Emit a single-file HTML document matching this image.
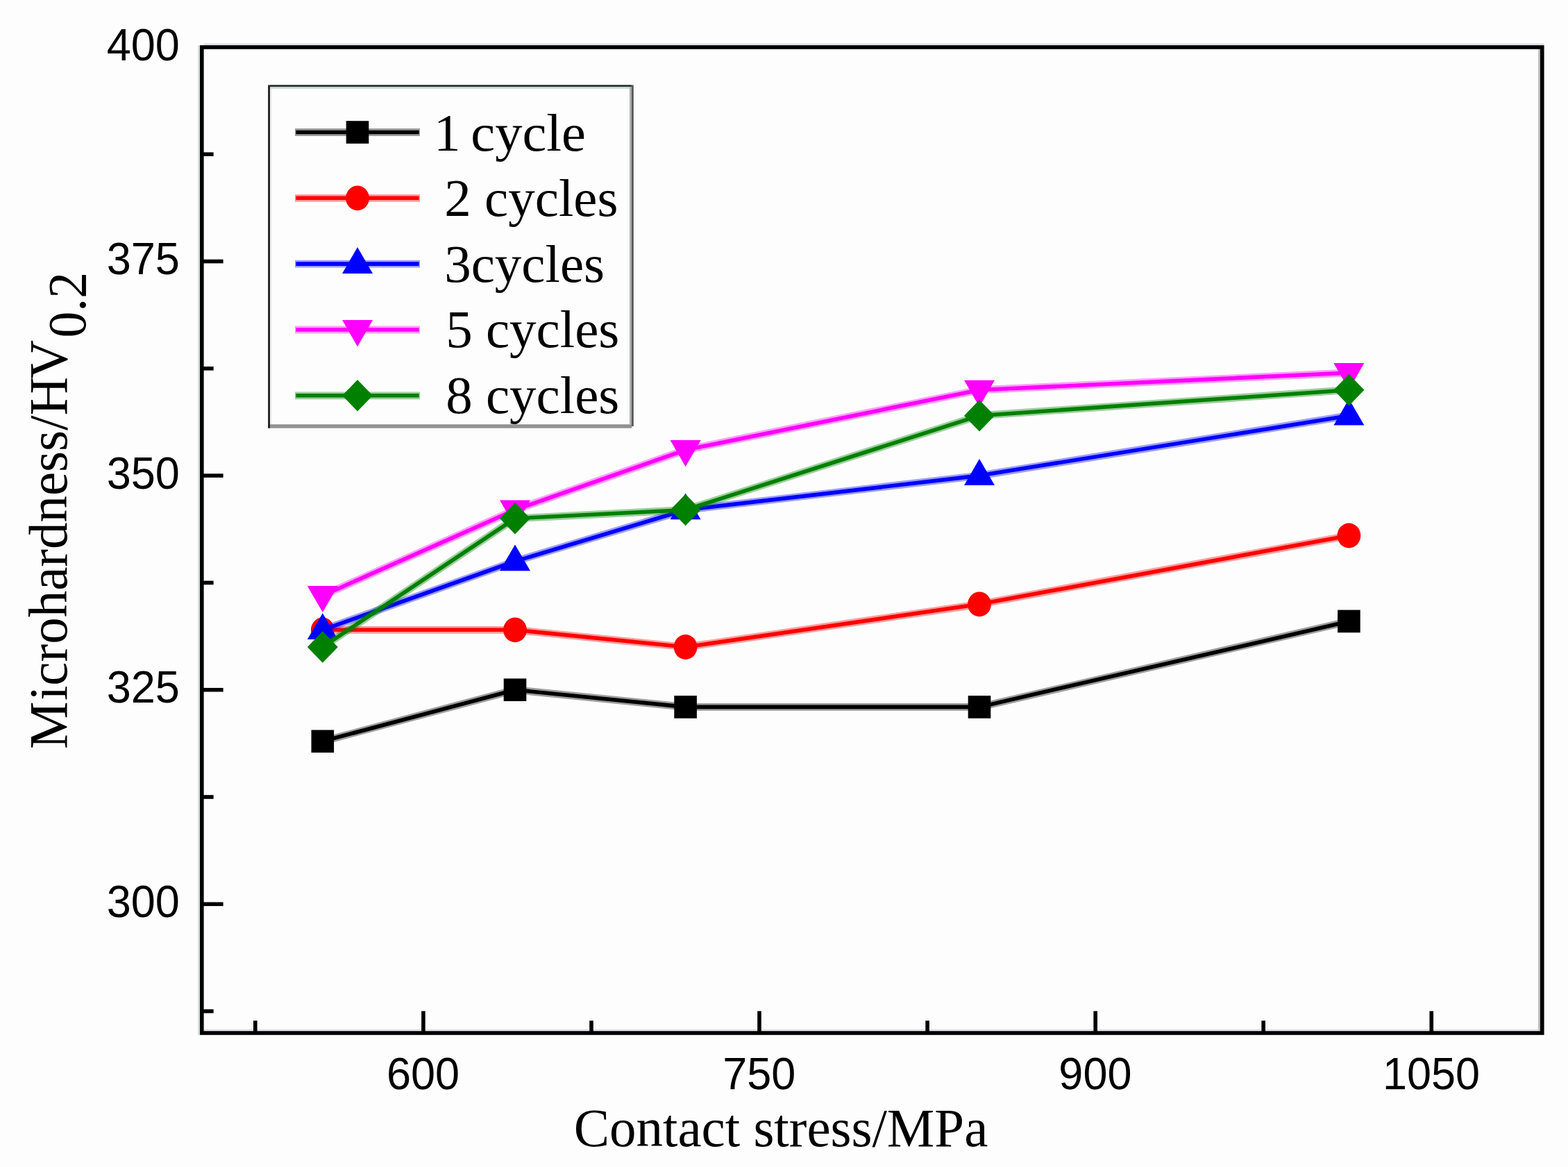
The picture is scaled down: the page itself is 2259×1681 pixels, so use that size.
<!DOCTYPE html>
<html lang="en">
<head>
<meta charset="utf-8">
<title>Microhardness vs contact stress</title>
<style>
html,body{margin:0;padding:0;background:#fdfdfd;}
body{width:2259px;height:1681px;overflow:hidden;}
svg{display:block;}
.tk{font-family:"Liberation Sans",sans-serif;font-size:63px;fill:#000;}
.sf{font-family:"Liberation Serif",serif;font-size:77px;fill:#000;}
</style>
</head>
<body>
<svg width="2259" height="1681" viewBox="0 0 2259 1681" role="img" aria-label="Microhardness versus contact stress for 1, 2, 3, 5 and 8 cycles">
<rect x="0" y="0" width="2259" height="1681" fill="#fdfdfd"/>
<g><polyline points="464.8,1067.8 742.0,993.7 987.6,1018.4 1411.0,1018.4 1943.4,894.9" fill="none" stroke="#000000" stroke-opacity="0.38" stroke-width="10.8" stroke-linejoin="round"/><polyline points="464.8,1067.8 742.0,993.7 987.6,1018.4 1411.0,1018.4 1943.4,894.9" fill="none" stroke="#000000" stroke-width="5.6" stroke-linejoin="round"/><rect x="448.5" y="1051.5" width="32.6" height="32.6" fill="#000000"/><rect x="725.7" y="977.4" width="32.6" height="32.6" fill="#000000"/><rect x="971.3" y="1002.1" width="32.6" height="32.6" fill="#000000"/><rect x="1394.7" y="1002.1" width="32.6" height="32.6" fill="#000000"/><rect x="1927.1" y="878.6" width="32.6" height="32.6" fill="#000000"/></g>
<g><polyline points="464.8,907.3 742.0,907.3 987.6,932.0 1411.0,870.3 1943.4,771.5" fill="none" stroke="#ff0000" stroke-opacity="0.38" stroke-width="10.8" stroke-linejoin="round"/><polyline points="464.8,907.3 742.0,907.3 987.6,932.0 1411.0,870.3 1943.4,771.5" fill="none" stroke="#ff0000" stroke-width="5.6" stroke-linejoin="round"/><ellipse cx="464.8" cy="907.3" rx="16.9" ry="17.9" fill="#ff0000"/><ellipse cx="742.0" cy="907.3" rx="16.9" ry="17.9" fill="#ff0000"/><ellipse cx="987.6" cy="932.0" rx="16.9" ry="17.9" fill="#ff0000"/><ellipse cx="1411.0" cy="870.3" rx="16.9" ry="17.9" fill="#ff0000"/><ellipse cx="1943.4" cy="771.5" rx="16.9" ry="17.9" fill="#ff0000"/></g>
<g><polyline points="464.8,907.3 742.0,808.5 987.6,734.5 1411.0,685.1 1943.4,598.7" fill="none" stroke="#0000ff" stroke-opacity="0.38" stroke-width="10.8" stroke-linejoin="round"/><polyline points="464.8,907.3 742.0,808.5 987.6,734.5 1411.0,685.1 1943.4,598.7" fill="none" stroke="#0000ff" stroke-width="5.6" stroke-linejoin="round"/><polygon points="442.8,921.1 486.8,921.1 464.8,883.3" fill="#0000ff"/><polygon points="720.0,822.3 764.0,822.3 742.0,784.5" fill="#0000ff"/><polygon points="965.6,748.3 1009.6,748.3 987.6,710.5" fill="#0000ff"/><polygon points="1389.0,698.9 1433.0,698.9 1411.0,661.1" fill="#0000ff"/><polygon points="1921.4,612.5 1965.4,612.5 1943.4,574.7" fill="#0000ff"/></g>
<g><polyline points="464.8,857.9 742.0,734.5 987.6,648.1 1411.0,561.7 1943.4,537.0" fill="none" stroke="#ff00ff" stroke-opacity="0.38" stroke-width="10.8" stroke-linejoin="round"/><polyline points="464.8,857.9 742.0,734.5 987.6,648.1 1411.0,561.7 1943.4,537.0" fill="none" stroke="#ff00ff" stroke-width="5.6" stroke-linejoin="round"/><polygon points="442.8,843.9 486.8,843.9 464.8,882.1" fill="#ff00ff"/><polygon points="720.0,720.5 764.0,720.5 742.0,758.7" fill="#ff00ff"/><polygon points="965.6,634.1 1009.6,634.1 987.6,672.3" fill="#ff00ff"/><polygon points="1389.0,547.7 1433.0,547.7 1411.0,585.9" fill="#ff00ff"/><polygon points="1921.4,523.0 1965.4,523.0 1943.4,561.2" fill="#ff00ff"/></g>
<g><polyline points="464.8,932.0 742.0,746.8 987.6,734.5 1411.0,598.7 1943.4,561.7" fill="none" stroke="#008000" stroke-opacity="0.38" stroke-width="10.8" stroke-linejoin="round"/><polyline points="464.8,932.0 742.0,746.8 987.6,734.5 1411.0,598.7 1943.4,561.7" fill="none" stroke="#008000" stroke-width="5.6" stroke-linejoin="round"/><polygon points="442.8,932.0 464.8,909.2 486.8,932.0 464.8,954.7" fill="#008000"/><polygon points="720.0,746.8 742.0,724.1 764.0,746.8 742.0,769.6" fill="#008000"/><polygon points="965.6,734.5 987.6,711.7 1009.6,734.5 987.6,757.2" fill="#008000"/><polygon points="1389.0,598.7 1411.0,575.9 1433.0,598.7 1411.0,621.4" fill="#008000"/><polygon points="1921.4,561.7 1943.4,538.9 1965.4,561.7 1943.4,584.4" fill="#008000"/></g>
<g fill="none" stroke-width="2.8">
<line x1="286.6" y1="65.2" x2="286.6" y2="1490.8" stroke="#cfdcd6"/>
<line x1="2217.7" y1="70.8" x2="2217.7" y2="1485.2" stroke="#b4b4b4"/>
<line x1="293.6" y1="63.9" x2="2224.6" y2="63.9" stroke="#e0e0ea"/>
<line x1="293.6" y1="1483.9" x2="2216.3" y2="1483.9" stroke="#e0e0ea"/>
</g>
<rect x="290.8" y="68.0" width="1931.0" height="1420.0" fill="none" stroke="#000" stroke-width="5.6"/>
<g stroke="#000" stroke-width="5.6">
<line x1="290.8" y1="376.5" x2="321.6" y2="376.5"/>
<line x1="290.8" y1="685.1" x2="321.6" y2="685.1"/>
<line x1="290.8" y1="993.7" x2="321.6" y2="993.7"/>
<line x1="290.8" y1="1302.3" x2="321.6" y2="1302.3"/>
<line x1="290.8" y1="222.2" x2="307.6" y2="222.2"/>
<line x1="290.8" y1="530.8" x2="307.6" y2="530.8"/>
<line x1="290.8" y1="839.4" x2="307.6" y2="839.4"/>
<line x1="290.8" y1="1148.0" x2="307.6" y2="1148.0"/>
<line x1="290.8" y1="1456.6" x2="307.6" y2="1456.6"/>
<line x1="609.9" y1="1488.0" x2="609.9" y2="1456.4"/>
<line x1="1094.0" y1="1488.0" x2="1094.0" y2="1456.4"/>
<line x1="1578.2" y1="1488.0" x2="1578.2" y2="1456.4"/>
<line x1="2062.3" y1="1488.0" x2="2062.3" y2="1456.4"/>
<line x1="367.8" y1="1488.0" x2="367.8" y2="1470.2"/>
<line x1="852.0" y1="1488.0" x2="852.0" y2="1470.2"/>
<line x1="1336.1" y1="1488.0" x2="1336.1" y2="1470.2"/>
<line x1="1820.2" y1="1488.0" x2="1820.2" y2="1470.2"/>
</g>
<text class="tk" transform="translate(258.8,86.6) scale(1,1.04)" text-anchor="end">400</text>
<text class="tk" transform="translate(258.8,395.2) scale(1,1.04)" text-anchor="end">375</text>
<text class="tk" transform="translate(258.8,703.8) scale(1,1.04)" text-anchor="end">350</text>
<text class="tk" transform="translate(258.8,1012.4) scale(1,1.04)" text-anchor="end">325</text>
<text class="tk" transform="translate(258.8,1321.0) scale(1,1.04)" text-anchor="end">300</text>
<text class="tk" transform="translate(609.6,1568.7) scale(1,1.04)" text-anchor="middle">600</text>
<text class="tk" transform="translate(1093.7,1568.7) scale(1,1.04)" text-anchor="middle">750</text>
<text class="tk" transform="translate(1577.9,1568.7) scale(1,1.04)" text-anchor="middle">900</text>
<text class="tk" transform="translate(2062.0,1568.7) scale(1,1.04)" text-anchor="middle">1050</text>
<text class="sf" transform="translate(1125.0,1650.9) scale(1,1.012)" text-anchor="middle">Contact stress/MPa</text>
<text class="sf" transform="translate(95.7,1077.5) rotate(-90) scale(1,1.012)"><tspan x="-1.5">M</tspan><tspan dx="1.5">icrohardness/H</tspan><tspan dx="-2.5">V</tspan></text>
<text class="sf" transform="translate(123.3,486.6) rotate(-90) scale(1,1.012)" textLength="94.6" lengthAdjust="spacingAndGlyphs">0.2</text>
<g fill="none">
<line x1="388.9" y1="126.4" x2="907" y2="126.4" stroke="#c4d8d0" stroke-width="2.8"/>
<line x1="390.3" y1="127.8" x2="390.3" y2="611.2" stroke="#ececf2" stroke-width="2.8"/>
<line x1="386.2" y1="614.0" x2="910" y2="614.0" stroke="#929292" stroke-width="5.6"/>
<line x1="908.45" y1="125" x2="908.45" y2="611.2" stroke="#b0b0b0" stroke-width="2.9"/>
<line x1="911.35" y1="122.4" x2="911.35" y2="614" stroke="#555955" stroke-width="2.9"/>
<line x1="387.55" y1="122.4" x2="387.55" y2="616.8" stroke="#1a1a1a" stroke-width="2.75"/>
<line x1="388.9" y1="123.7" x2="909.9" y2="123.7" stroke="#303030" stroke-width="2.7"/>
</g>
<line x1="425.0" y1="190.5" x2="605.0" y2="190.5" stroke="#000000" stroke-opacity="0.38" stroke-width="10.8"/>
<line x1="426.4" y1="190.5" x2="603.6" y2="190.5" stroke="#000000" stroke-width="5.6"/>
<rect x="498.7" y="174.2" width="32.6" height="32.6" fill="#000000"/>
<text class="sf" transform="translate(0,216.7) scale(1,0.992)" xml:space="preserve"><tspan x="625">1 </tspan><tspan x="678.3" textLength="165.7" lengthAdjust="spacingAndGlyphs">cycle</tspan></text>
<line x1="425.0" y1="285.3" x2="605.0" y2="285.3" stroke="#ff0000" stroke-opacity="0.38" stroke-width="10.8"/>
<line x1="426.4" y1="285.3" x2="603.6" y2="285.3" stroke="#ff0000" stroke-width="5.6"/>
<ellipse cx="515.0" cy="285.3" rx="16.9" ry="17.9" fill="#ff0000"/>
<text class="sf" transform="translate(640.3,310.7) scale(1,0.992)" xml:space="preserve">2 cycles</text>
<line x1="425.0" y1="380.1" x2="605.0" y2="380.1" stroke="#0000ff" stroke-opacity="0.38" stroke-width="10.8"/>
<line x1="426.4" y1="380.1" x2="603.6" y2="380.1" stroke="#0000ff" stroke-width="5.6"/>
<polygon points="493.0,393.9 537.0,393.9 515.0,356.1" fill="#0000ff"/>
<text class="sf" transform="translate(640.2,405.5) scale(1,0.992)" xml:space="preserve">3cycles</text>
<line x1="425.0" y1="475.0" x2="605.0" y2="475.0" stroke="#ff00ff" stroke-opacity="0.38" stroke-width="10.8"/>
<line x1="426.4" y1="475.0" x2="603.6" y2="475.0" stroke="#ff00ff" stroke-width="5.6"/>
<polygon points="493.0,461.0 537.0,461.0 515.0,499.2" fill="#ff00ff"/>
<text class="sf" transform="translate(642.2,500.4) scale(1,0.992)" xml:space="preserve">5 cycles</text>
<line x1="425.0" y1="569.8" x2="605.0" y2="569.8" stroke="#008000" stroke-opacity="0.38" stroke-width="10.8"/>
<line x1="426.4" y1="569.8" x2="603.6" y2="569.8" stroke="#008000" stroke-width="5.6"/>
<polygon points="493.0,569.8 515.0,547.0 537.0,569.8 515.0,592.5" fill="#008000"/>
<text class="sf" transform="translate(642.2,595.2) scale(1,0.992)" xml:space="preserve">8 cycles</text>
</svg>
</body>
</html>
